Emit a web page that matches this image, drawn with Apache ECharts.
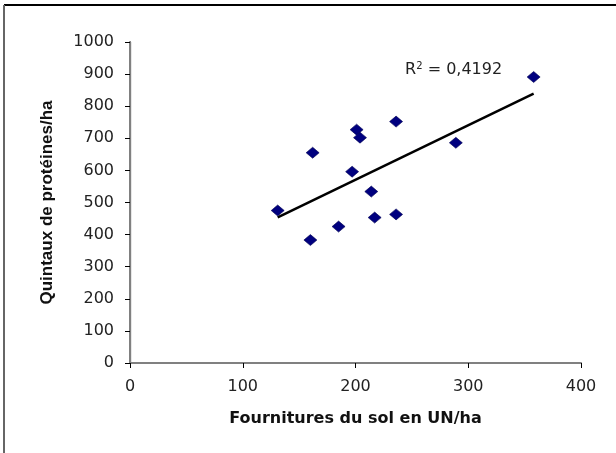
<!DOCTYPE html>
<html>
<head>
<meta charset="utf-8">
<script src="https://cdn.jsdelivr.net/npm/echarts@6/dist/echarts.min.js"></script>
<style>
html,body{margin:0;padding:0;background:#fff;}
#chart{width:616px;height:453px;}
</style>
</head>
<body>
<div id="chart"></div>
<script>
// Data
var fournitures = [131, 160, 162, 185, 197, 201, 204, 214, 217, 236, 236, 289, 358];
var proteines   = [475, 383, 655, 425, 596, 727, 702, 534, 453, 752, 463, 686, 891];
var xTicks = [0, 100, 200, 300, 400];
var yTicks = [0, 100, 200, 300, 400, 500, 600, 700, 800, 900, 1000];
var r2Text = 'R² = 0,4192';
var xTitle = 'Fournitures du sol en UN/ha';
var yTitle = 'Quintaux de protéines/ha';

var points = fournitures.map(function (x, i) { return [x, proteines[i]]; });

// linear least squares trend line
var n = fournitures.length, sx = 0, sy = 0, sxx = 0, sxy = 0;
for (var i = 0; i < n; i++) {
  sx += fournitures[i]; sy += proteines[i];
  sxx += fournitures[i] * fournitures[i]; sxy += fournitures[i] * proteines[i];
}
var slope = (n * sxy - sx * sy) / (n * sxx - sx * sx);
var intercept = (sy - slope * sx) / n;
var xmin = Math.min.apply(null, fournitures), xmax = Math.max.apply(null, fournitures);
var trend = [[xmin, intercept + slope * xmin], [xmax, intercept + slope * xmax]];

var chart = echarts.init(document.getElementById('chart'), null, {renderer: 'canvas'});
var font = 'DejaVu Sans';
var plain = function (v) { return String(v); };
var frame = [
  {type: 'line', shape: {x1: 4, y1: 5, x2: 616, y2: 5}, style: {stroke: '#000', lineWidth: 2}, silent: true},
  {type: 'line', shape: {x1: 4, y1: 5, x2: 4, y2: 453}, style: {stroke: '#666', lineWidth: 2}, silent: true}
];
chart.setOption({
  animation: false,
  backgroundColor: '#ffffff',
  grid: {left: 130, right: 35, top: 42, bottom: 90, containLabel: false},
  xAxis: [{
    type: 'value', min: xTicks[0], max: xTicks[xTicks.length - 1], interval: 100,
    name: xTitle, nameLocation: 'middle', nameGap: 48,
    nameTextStyle: {fontFamily: font, fontWeight: 'bold', fontSize: 16, color: '#111'},
    axisLine: {show: true, onZero: false, lineStyle: {color: '#000', width: 1.2}},
    axisTick: {show: true, inside: false, length: 5, lineStyle: {color: '#000'}},
    axisLabel: {margin: 16, fontFamily: font, fontSize: 16, color: '#222', formatter: plain},
    splitLine: {show: false}
  }, {
    type: 'value', position: 'top', min: 0, max: 400,
    axisLine: {show: true, lineStyle: {color: '#808080', width: 2}},
    axisTick: {show: false}, axisLabel: {show: false}, splitLine: {show: false}
  }],
  yAxis: [{
    type: 'value', min: yTicks[0], max: yTicks[yTicks.length - 1], interval: 100,
    name: yTitle, nameLocation: 'middle', nameGap: 74, nameRotate: 90,
    nameTextStyle: {fontFamily: 'Liberation Sans', fontWeight: 'bold', fontSize: 17, color: '#111'},
    axisLine: {show: true, onZero: false, lineStyle: {color: '#000', width: 1.2}},
    axisTick: {show: true, inside: false, length: 5, lineStyle: {color: '#000'}},
    axisLabel: {margin: 16, fontFamily: font, fontSize: 16, color: '#222', formatter: plain},
    splitLine: {show: false}
  }, {
    type: 'value', position: 'right', min: 0, max: 1000,
    axisLine: {show: true, lineStyle: {color: '#808080', width: 2}},
    axisTick: {show: false}, axisLabel: {show: false}, splitLine: {show: false}
  }],
  series: [{
    type: 'line', data: trend, showSymbol: false, symbol: 'none',
    lineStyle: {color: '#000', width: 2.5}, z: 2, silent: true
  }, {
    type: 'scatter', data: points, symbol: 'diamond', symbolSize: [13, 11],
    itemStyle: {color: '#00007f', borderColor: '#000050', borderWidth: 0.6, opacity: 1}, z: 3
  }],
  graphic: frame
});

// R² label anchored in data coordinates
var r2Anchor = [244, 913];
var p = chart.convertToPixel({xAxisIndex: 0, yAxisIndex: 0}, r2Anchor);
chart.setOption({
  graphic: frame.concat([
    {type: 'text', x: p[0], y: p[1], style: {
      text: '{a|R}{s|2}{a| = 0,4192}',
      rich: {
        a: {fontFamily: font, fontSize: 16, fill: '#222', verticalAlign: 'middle'},
        s: {fontFamily: font, fontSize: 10, fill: '#222', verticalAlign: 'top', padding: [0, 0, 8, 0]}
      },
      verticalAlign: 'middle', align: 'left'
    }}
  ])
});
</script>
</body>
</html>
